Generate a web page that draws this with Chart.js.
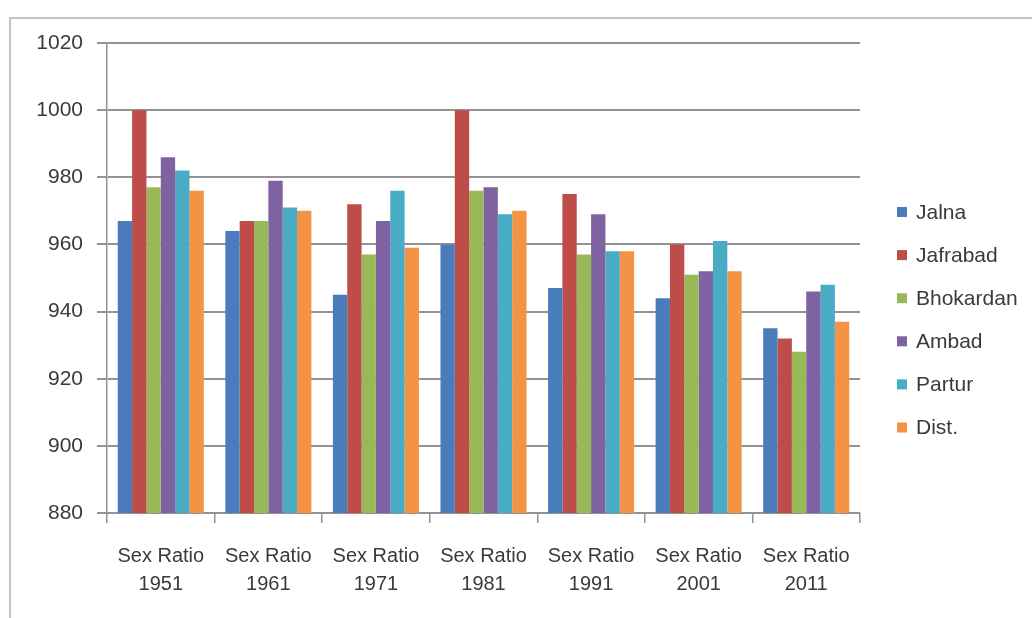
<!DOCTYPE html>
<html>
<head>
<meta charset="utf-8">
<title>Sex Ratio – Jalna District</title>
<script src="https://cdn.jsdelivr.net/npm/chart.js@4.4.1/dist/chart.umd.min.js"></script>
<style>
  html, body { margin: 0; padding: 0; background: #ffffff; }
  #wrap { position: relative; width: 1032px; height: 618px; overflow: hidden; }
  #frame {
    position: absolute; left: 9px; top: 17px; width: 1100px; height: 700px;
    border-left: 2px solid #c4c4c4; border-top: 2px solid #c4c4c4;
    box-sizing: border-box;
  }
  canvas { position: absolute; left: 0; top: 0; }
</style>
</head>
<body>
<div id="wrap">
  <div id="frame"></div>
  <canvas id="chart" width="1032" height="618"></canvas>
</div>
<script>
// Census years (two-line category labels)
const categories = [
  ["Sex Ratio", "1951"], ["Sex Ratio", "1961"], ["Sex Ratio", "1971"],
  ["Sex Ratio", "1981"], ["Sex Ratio", "1991"], ["Sex Ratio", "2001"],
  ["Sex Ratio", "2011"]
];

// Females per 1000 males, by tahsil
const jalna     = [967, 964, 945, 960, 947, 944, 935];
const jafrabad  = [1000, 967, 972, 1000, 975, 960, 932];
const bhokardan = [977, 967, 957, 976, 957, 951, 928];
const ambad     = [986, 979, 967, 977, 969, 952, 946];
const partur    = [982, 971, 976, 969, 958, 961, 948];
const dist      = [976, 970, 959, 970, 958, 952, 937];

const seriesNames = ["Jalna", "Jafrabad", "Bhokardan", "Ambad", "Partur", "Dist."];
const seriesValues = [jalna, jafrabad, bhokardan, ambad, partur, dist];
const seriesColors = ["#4a7bbb", "#be4c49", "#99b958", "#7e62a1", "#4aabc5", "#f39343"];

// Y axis range
const yMin = 880, yMax = 1020, yStep = 20;

const textColor = "#3a3a3a";
const gridColor = "#939393";
const fontFamily = "'Liberation Sans', Arial, sans-serif";

// Legend drawn to the right of the plot, one entry per row
const legendPlugin = {
  id: "sideLegend",
  afterDraw(chart) {
    const ctx = chart.ctx;
    const x0 = 897, top = 212, gap = 43.1;
    ctx.save();
    ctx.font = "21px " + fontFamily;
    ctx.textBaseline = "middle";
    ctx.textAlign = "left";
    chart.data.datasets.forEach((ds, i) => {
      const cy = top + i * gap;
      ctx.fillStyle = ds.backgroundColor;
      ctx.fillRect(x0, cy - 5, 10, 10);
      ctx.fillStyle = textColor;
      ctx.fillText(ds.label, x0 + 19, cy + 1);
    });
    ctx.restore();
  }
};

new Chart(document.getElementById("chart"), {
  type: "bar",
  data: {
    labels: categories,
    datasets: seriesNames.map((name, i) => ({
      label: name,
      data: seriesValues[i],
      backgroundColor: seriesColors[i],
      borderWidth: 0,
      categoryPercentage: 0.8,
      barPercentage: 1.0
    }))
  },
  options: {
    responsive: false,
    animation: false,
    layout: { padding: { left: 0, right: 172, top: 43, bottom: 0 } },
    plugins: {
      legend: { display: false },
      tooltip: { enabled: false }
    },
    scales: {
      x: {
        afterFit(scale) { scale.height = 105; },
        grid: {
          display: true,
          drawOnChartArea: false,
          drawTicks: true,
          tickLength: 10,
          offset: true,
          color: gridColor,
          lineWidth: 1.5
        },
        border: { display: true, color: gridColor, width: 2 },
        ticks: {
          color: textColor,
          font: { family: fontFamily, size: 20, lineHeight: 1.4 },
          padding: 19,
          maxRotation: 0,
          autoSkip: false
        }
      },
      y: {
        min: yMin,
        max: yMax,
        afterFit(scale) { scale.width = 107; },
        grid: {
          color: gridColor,
          lineWidth: 2,
          drawTicks: true,
          tickLength: 10
        },
        border: { display: true, color: gridColor, width: 1.5 },
        ticks: {
          stepSize: yStep,
          color: textColor,
          font: { family: fontFamily, size: 21 },
          padding: 14,
          callback: (v) => String(v)
        }
      }
    }
  },
  plugins: [legendPlugin]
});
</script>
</body>
</html>
